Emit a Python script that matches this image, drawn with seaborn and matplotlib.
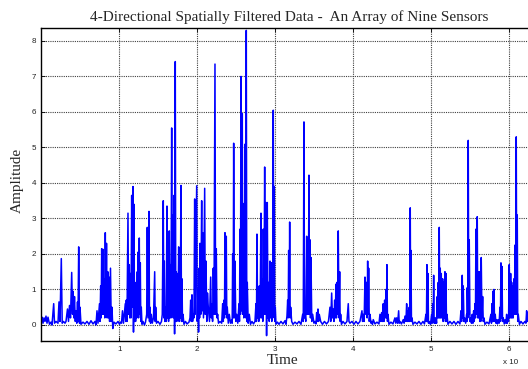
import matplotlib
matplotlib.use("Agg")
import matplotlib.pyplot as plt
import seaborn as sns
from matplotlib.ticker import FixedLocator, FuncFormatter

# ---- data (time in samples, amplitude) ----
time = [
    0, 77, 205, 334, 462, 590, 719, 847, 1040, 1232,
    1361, 1579, 1682, 1874, 2131, 2259, 2388, 2555, 2670, 2837,
    3030, 3158, 3350, 3479, 3607, 3736, 3890, 3992, 4056, 4159,
    4249, 4352, 4442, 4544, 4634, 4698, 4788, 4891, 4955, 5083,
    5340, 5597, 5854, 6110, 6367, 6624, 6881, 7009, 7137, 7266,
    7458, 7522, 7612, 7676, 7741, 7818, 7908, 7985, 8061, 8139,
    8203, 8280, 8357, 8434, 8524, 8601, 8678, 8755, 8870, 8960,
    9063, 9166, 9320, 9576, 9833, 10026, 10154, 10282, 10411, 10539,
    10770, 10834, 10898, 10988, 11116, 11193, 11283, 11348, 11412, 11502,
    11592, 11669, 11758, 11823, 11887, 11951, 12015, 12092, 12182, 12246,
    12311, 12349, 12400, 12477, 12567, 12631, 12696, 12760, 12824, 12914,
    13042, 13235, 13363, 13517, 13594, 13684, 13812, 13877, 13941, 14018,
    14108, 14236, 14390, 14544, 14609, 14673, 14776, 14968, 15225, 15417,
    15520, 15648, 15713, 15777, 15841, 15905, 16020, 16123, 16187, 16251,
    16328, 16418, 16482, 16547, 16636, 16726, 16790, 16854, 16931, 17021,
    17098, 17188, 17252, 17316, 17381, 17445, 17535, 17625, 17689, 17753,
    17830, 17920, 17984, 18048, 18112, 18177, 18305, 18498, 18691, 18947,
    19076, 19166, 19243, 19332, 19409, 19499, 19589, 19679, 19756, 19935,
    20012, 20102, 20179, 20256, 20307, 20359, 20461, 20577, 20641, 20705,
    20808, 20962, 21039, 21129, 21232, 21322, 21425, 21579, 21733, 21810,
    21900, 21977, 22067, 22157, 22285, 22362, 22452, 22542, 22632, 22734,
    22927, 23145, 23274, 23351, 23440, 23505, 23569, 23646, 23736, 23800,
    23864, 23993, 24121, 24275, 24429, 24493, 24558, 24622, 24686, 24763,
    24853, 24956, 25071, 25212, 25366, 25430, 25495, 25559, 25623, 25700,
    25790, 25854, 25918, 25983, 26047, 26111, 26175, 26240, 26304, 26368,
    26432, 26548, 26689, 26843, 27035, 27228, 27420, 27549, 27613, 27677,
    27754, 27844, 27908, 27972, 28075, 28190, 28267, 28357, 28421, 28486,
    28576, 28665, 28742, 28832, 28909, 28999, 29089, 29179, 29256, 29346,
    29423, 29512, 29577, 29641, 29705, 29769, 29833, 29897, 29962, 30026,
    30116, 30308, 30501, 30758, 31014, 31271, 31400, 31528, 31618, 31682,
    31746, 31810, 31875, 31939, 32003, 32131, 32298, 32555, 32812, 33069,
    33325, 33543, 33620, 33710, 33774, 33838, 33941, 34057, 34121, 34185,
    34262, 34352, 34416, 34480, 34545, 34609, 34712, 34827, 34994, 35122,
    35251, 35341, 35418, 35507, 35584, 35674, 35854, 36085, 36342, 36599,
    36855, 37048, 37150, 37266, 37369, 37471, 37561, 37651, 37728, 37818,
    37882, 37946, 38023, 38113, 38203, 38293, 38357, 38421, 38524, 38716,
    38973, 39230, 39397, 39487, 39615, 39872, 40129, 40385, 40642, 40899,
    41027, 41156, 41233, 41322, 41438, 41541, 41643, 41758, 41823, 41887,
    41951, 42015, 42092, 42182, 42310, 42400, 42503, 42606, 42824, 43081,
    43338, 43466, 43569, 43684, 43787, 43890, 43979, 44069, 44146, 44236,
    44300, 44364, 44429, 44493, 44621, 44878, 45135, 45391, 45494, 45610,
    45738, 45866, 45943, 46033, 46226, 46457, 46572, 46675, 46803, 46893,
    46996, 47099, 47163, 47227, 47291, 47355, 47407, 47445, 47510, 47574,
    47702, 47959, 48216, 48473, 48729, 48986, 49179, 49371, 49435, 49500,
    49564, 49628, 49692, 49756, 49949, 50103, 50167, 50231, 50296, 50360,
    50424, 50488, 50565, 50655, 50732, 50822, 50886, 50950, 51015, 51079,
    51143, 51207, 51271, 51336, 51425, 51515, 51579, 51644, 51721, 51810,
    51875, 51939, 52003, 52067, 52196, 52452, 52709, 52966, 53223, 53479,
    53736, 53864, 53954, 54031, 54095, 54159, 54249, 54339, 54468, 54596,
    54635, 54673, 54737, 54802, 54866, 54930, 55020, 55110, 55212, 55315,
    55405, 55495, 55572, 55662, 55726, 55790, 55867, 55957, 56021, 56085,
    56149, 56214, 56278, 56342, 56406, 56470, 56560, 56650, 56727, 56817,
    56945, 57202, 57459, 57715, 57780, 57844, 57908, 57972, 58036, 58101,
    58178, 58267, 58357, 58447, 58550, 58653, 58768, 58871, 58935, 58999,
    59063, 59127, 59204, 59294, 59423, 59551, 59641, 59731, 59808, 59898,
    59975, 60065, 60155, 60245, 60309, 60373, 60437, 60501, 60578, 60668,
    60733, 60797, 60874, 60964, 61028, 61092, 61156, 61220, 61374, 61567,
    61824, 62080, 62208, 62298, 62375, 62465, 62594, 62850,
]

amplitude = [
    0.15, 0.22, 0.05, 0.2, 0.1, 0.25, 0.05, 0.22, 0.02, 0.08,
    0.0, 0.6, 0.05, 0.1, 0.05, 0.65, 0.1, 1.87, 0.05, 0.1,
    0.05, 0.1, 0.45, 0.1, 0.55, 0.2, 1.48, 0.3, 0.95, 0.2,
    0.8, 0.1, 0.4, 0.05, 0.65, 0.1, 2.2, 0.05, 0.5, 0.02,
    0.08, 0.03, 0.1, 0.02, 0.12, 0.03, 0.1, 0.0, 0.4, 0.05,
    0.6, 0.1, 1.1, 0.2, 2.15, 0.3, 2.13, 0.3, 1.3, 0.2,
    2.6, 0.3, 2.3, 0.2, 1.5, 0.2, 1.35, 0.1, 1.6, 0.1,
    0.5, -0.1, 0.08, 0.03, 0.1, 0.02, 0.08, 0.05, 0.4, 0.05,
    0.6, 0.1, 0.7, 0.1, 3.15, 0.3, 1.7, 0.2, 1.45, 0.2,
    3.65, 0.5, 3.9, -0.2, 3.4, 0.1, 1.2, 0.1, 1.0, 0.2,
    1.5, 0.3, 2.05, 0.2, 2.45, 0.3, 1.75, 0.1, 0.5, 0.02,
    0.1, 0.0, 0.08, 0.3, 2.75, 0.2, 3.2, 0.1, 0.5, 0.05,
    0.3, 0.05, 0.2, 1.5, 0.1, 0.5, 0.05, 0.1, 0.02, 0.1,
    0.3, 3.5, 0.2, 1.8, 0.1, 0.5, 0.1, 3.35, 0.2, 0.6,
    0.1, 2.65, 0.2, 1.7, 0.2, 5.55, 0.3, 3.1, 0.2, 3.65,
    -0.25, 7.42, 0.1, 1.5, 0.1, 1.45, 0.2, 2.2, 0.1, 1.6,
    0.2, 3.93, 0.1, 1.3, 0.1, 0.3, 0.02, 0.1, 0.03, 0.08,
    0.2, 0.7, 0.1, 0.85, 0.1, 0.3, 0.2, 3.55, 0.3, 3.92,
    0.1, 1.0, -0.2, 1.6, 0.2, 2.3, 0.3, 3.5, 0.4, 2.6,
    0.2, 3.85, 0.3, 1.8, 0.1, 0.9, 0.5, 0.1, 1.35, 0.2,
    0.6, 0.1, 1.6, 0.3, 7.35, 0.3, 2.15, 0.2, 0.3, 0.05,
    0.1, 0.05, 0.6, 0.1, 0.7, 0.2, 2.6, 0.3, 2.5, 0.2,
    0.5, 0.05, 0.3, 0.05, 0.15, 0.05, 2.0, 0.2, 5.12, 0.2,
    1.8, 0.1, 0.3, 0.05, 0.6, 0.1, 2.7, 0.3, 7.0, 0.4,
    5.95, 0.3, 3.4, 0.2, 3.43, 0.3, 5.1, 0.2, 8.3, 0.1,
    1.2, 0.05, 0.3, 0.02, 0.1, 0.03, 0.1, 0.6, 0.1, 2.56,
    0.2, 0.8, 0.1, 1.1, 0.2, 3.15, 0.2, 1.3, 0.1, 2.7,
    0.3, 4.45, 0.3, 3.45, -0.3, 3.45, 0.2, 1.2, 0.1, 1.8,
    0.2, 1.75, 0.1, 1.75, 0.2, 6.05, 0.3, 3.9, 0.1, 0.5,
    0.02, 0.08, 0.02, 0.1, 0.03, 0.12, 0.02, 0.25, 0.7, 0.2,
    2.1, 0.3, 2.9, 0.2, 0.5, 0.1, 0.02, 0.08, 0.03, 0.1,
    0.02, 0.3, 0.1, 5.72, 0.2, 0.3, 0.1, 2.5, 0.3, 2.4,
    0.3, 4.22, 0.3, 2.4, 0.2, 1.9, 0.1, 0.3, 0.05, 0.1,
    0.03, 0.35, 0.1, 0.45, 0.1, 0.3, 0.1, 0.02, 0.1, 0.03,
    0.1, 0.5, 0.1, 0.9, 0.2, 0.45, 0.1, 0.7, 0.2, 1.15,
    0.2, 1.2, 0.3, 2.65, 0.2, 1.5, 0.1, 0.3, 0.02, 0.1,
    0.03, 0.1, 0.6, 0.1, 0.05, 0.1, 0.02, 0.1, 0.03, 0.1,
    0.25, 0.4, 0.1, 0.3, 0.1, 1.35, 0.3, 1.2, 0.2, 1.8,
    0.3, 1.6, 0.1, 0.3, 0.05, 0.1, 0.02, 0.15, 0.03, 0.08,
    0.03, 0.3, 0.1, 0.35, 0.1, 0.6, 0.1, 0.7, 0.2, 1.0,
    0.2, 1.7, 0.1, 0.3, 0.02, 0.08, 0.03, 0.2, 0.05, 0.2,
    0.05, 0.4, 0.05, 0.1, 0.03, 0.15, 0.05, 0.25, 0.1, 0.6,
    0.1, 0.4, 0.1, 0.5, 0.1, 3.3, 0.3, 2.1, 0.1, 0.2,
    0.02, 0.08, 0.03, 0.1, 0.02, 0.1, 0.03, 0.3, 0.1, 1.7,
    0.1, 1.45, 0.05, 0.1, 0.02, 0.3, 0.05, 0.6, 0.1, 1.4,
    0.05, 0.2, 0.05, 0.2, 0.05, 0.8, 0.2, 1.2, 0.2, 2.75,
    0.2, 1.6, 0.2, 1.45, 0.2, 1.3, 0.1, 1.2, 0.2, 1.5,
    0.1, 1.45, 0.1, 0.3, 0.02, 0.1, 0.03, 0.1, 0.02, 0.1,
    0.03, 0.4, 0.1, 1.4, 0.2, 1.1, 0.1, 0.2, 0.05, 0.3,
    0.1, 1.05, 0.2, 5.2, 0.3, 2.4, 0.1, 0.2, 0.05, 0.3,
    0.05, 0.4, 0.1, 0.6, 0.2, 2.7, 0.3, 3.05, 0.2, 1.5,
    0.2, 1.5, 0.1, 0.6, 0.1, 1.9, 0.2, 0.8, 0.1, 0.2,
    0.02, 0.08, 0.03, 0.3, 0.05, 0.6, 0.1, 0.95, 0.1, 1.0,
    0.1, 0.3, 0.05, 0.15, 0.03, 0.15, 0.05, 0.5, 0.1, 1.75,
    0.2, 1.65, 0.1, 0.2, 0.03, 0.15, 0.05, 0.3, 0.05, 0.2,
    0.1, 1.7, 0.2, 1.45, 0.2, 1.2, 0.2, 1.1, 0.2, 1.3,
    0.3, 2.25, 0.3, 5.3, 0.3, 3.1, 0.1, 0.3, 0.02, 0.1,
    0.03, 0.1, 0.05, 0.4, 0.1, 0.35, 0.05, 0.1,
]

assert len(time) == len(amplitude), (len(time), len(amplitude))

x_ticks = [10000, 20000, 30000, 40000, 50000, 60000]
x_tick_labels = ["1", "2", "3", "4", "5", "6"]
y_ticks = [0, 1, 2, 3, 4, 5, 6, 7, 8]

title = "4-Directional Spatially Filtered Data -  An Array of Nine Sensors"

# ---- style ----
sns.set_style("white")
plt.rcParams["font.family"] = ["Liberation Sans", "DejaVu Sans"]

W, H = 528, 369
fig = plt.figure(figsize=(W / 100, H / 100), dpi=100)
fig.patch.set_facecolor("white")

left_px, right_px, top_px, bottom_px = 41.4, 536.0, 28.2, 340.6
ax = fig.add_axes([left_px / W, (H - bottom_px) / H,
                   (right_px - left_px) / W, (bottom_px - top_px) / H])

sns.lineplot(x=time, y=amplitude, ax=ax, color="#0000ff", linewidth=1.1,
             sort=False, estimator=None, legend=False)

ax.set_xlim(0, 63500)
ax.set_ylim(-0.44, 8.36)
ax.xaxis.set_major_locator(FixedLocator(x_ticks))
ax.set_xticklabels(x_tick_labels)
ax.yaxis.set_major_locator(FixedLocator(y_ticks))
ax.yaxis.set_major_formatter(FuncFormatter(lambda v, p: f"{int(v)}"))

ax.set_axisbelow(True)
ax.grid(True, color="0.25", linestyle=(0, (1, 1)), linewidth=0.8)
for s in ax.spines.values():
    s.set_color("black")
    s.set_linewidth(1.0)
    s.set_visible(True)

ax.tick_params(axis="both", which="major", direction="in", length=3,
               width=0.6, color="black", labelsize=5.8, labelcolor="#222222",
               top=True, right=True, bottom=True, left=True)
ax.tick_params(axis="x", pad=4)
ax.tick_params(axis="y", pad=4)

serif = ["Liberation Serif", "DejaVu Serif"]
ax.set_title(title, fontsize=11, family=serif, pad=5)
ax.set_xlabel("Time", fontsize=11, family=serif, va="center", ha="center")
ax.set_ylabel("Amplitude", fontsize=11, family=serif, va="center", ha="center")
ax.xaxis.set_label_coords((283 - left_px) / (right_px - left_px),
                          -(360 - bottom_px) / (bottom_px - top_px))
ax.yaxis.set_label_coords(-(left_px - 17) / (right_px - left_px),
                          (bottom_px - 180) / (bottom_px - top_px))

fig.text(503 / W, 1 - 363 / H, "x 10", fontsize=5.8, color="#222222",
         ha="left", va="center")

fig.savefig("out.png", dpi=100)
